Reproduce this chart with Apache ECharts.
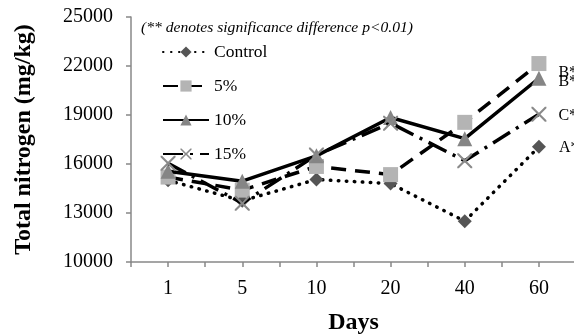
<!DOCTYPE html>
<html>
<head>
<meta charset="utf-8">
<script src="https://cdn.jsdelivr.net/npm/echarts@6/dist/echarts.min.js"></script>
<style>
  html, body { margin: 0; padding: 0; background: #fff; }
  #chart { width: 574px; height: 334px; }
</style>
</head>
<body>
<div id="chart"></div>
<script>
const days = ['1', '5', '10', '20', '40', '60']
const control = [15000, 13750, 15050, 14800, 12500, 17050]
const pct5 = [15200, 14400, 15850, 15350, 18550, 22150]
const pct10 = [15550, 14950, 16500, 18850, 17550, 21250]
const pct15 = [16050, 13600, 16550, 18500, 16200, 19050]
const endMarks = ['A**', 'B**', 'B**', 'C**']

const font = 'Liberation Serif'
const xPath = 'path://M0,0 L2,0 L10,8 L18,0 L20,0 L20,2 L12,10 L20,18 L20,20 L18,20 L10,12 L2,20 L0,20 L0,18 L8,10 L0,2 Z'

// label after the last point only
function endLabel(text, gap, dy) {
  return {
    show: true,
    position: 'right',
    distance: gap,
    offset: [0, dy],
    color: '#000',
    fontFamily: font,
    fontSize: 16,
    formatter: (p) => (p.dataIndex === days.length - 1 ? text : '')
  }
}

const chart = echarts.init(document.getElementById('chart'))

chart.setOption({
  animation: false,
  grid: { left: 131, right: -2, top: 17, bottom: 72, outerBoundsMode: 'none' },
  legend: {
    orient: 'vertical',
    left: 157,
    top: 38,
    itemWidth: 46,
    itemHeight: 14,
    itemGap: 16,
    textStyle: { fontFamily: font, fontSize: 17.5, color: '#000' },
    data: ['Control', '5%', '10%', '15%']
  },
  graphic: [{
    type: 'text',
    left: 141,
    top: 20,
    style: {
      text: '(** denotes significance difference p<0.01)',
      fontFamily: font,
      fontStyle: 'italic',
      fontSize: 15.6,
      fill: '#000'
    }
  }],
  xAxis: [
    {
      type: 'category',
      data: days,
      name: 'Days',
      nameLocation: 'middle',
      nameGap: 49,
      nameTextStyle: { fontFamily: font, fontWeight: 'bold', fontSize: 24, color: '#000' },
      axisLine: { lineStyle: { color: '#888', width: 1.5 } },
      axisTick: { show: false },
      axisLabel: { fontFamily: font, fontSize: 20, color: '#000', margin: 17 }
    },
    {
      type: 'value',
      min: 0,
      max: 12,
      interval: 1,
      position: 'bottom',
      axisLine: { show: false },
      axisLabel: { show: false },
      splitLine: { show: false },
      axisTick: { show: true, length: 5, lineStyle: { color: '#888', width: 1.5 } }
    }
  ],
  yAxis: {
    type: 'value',
    min: 10000,
    max: 25000,
    interval: 3000,
    name: 'Total nitrogen (mg/kg)',
    nameLocation: 'middle',
    nameGap: 95,
    nameTextStyle: { fontFamily: font, fontWeight: 'bold', fontSize: 24, color: '#000' },
    axisLine: { show: true, lineStyle: { color: '#888', width: 1.5 } },
    axisTick: { show: true, length: 5, lineStyle: { color: '#888', width: 1.5 } },
    splitLine: { show: false },
    axisLabel: {
      fontFamily: font, fontSize: 20, color: '#000', margin: 18,
      formatter: (v) => String(v)
    }
  },
  series: [
    {
      name: 'Control',
      type: 'line',
      data: control,
      symbol: 'diamond',
      symbolSize: 14,
      itemStyle: { color: '#555' },
      lineStyle: { color: '#000', width: 3.5, type: [0.5, 7.5], cap: 'round' },
      label: endLabel(endMarks[0], 13, 1),
      z: 2
    },
    {
      name: '5%',
      type: 'line',
      data: pct5,
      symbol: 'rect',
      symbolSize: 15,
      itemStyle: { color: '#b4b4b4' },
      lineStyle: { color: '#000', width: 3.5, type: [15, 9] },
      label: endLabel(endMarks[1], 12, 9),
      z: 3
    },
    {
      name: '10%',
      type: 'line',
      data: pct10,
      symbol: 'triangle',
      symbolSize: 15,
      itemStyle: { color: '#858585' },
      lineStyle: { color: '#000', width: 3.5, type: 'solid' },
      label: endLabel(endMarks[2], 12, 4),
      z: 4
    },
    {
      name: '15%',
      type: 'line',
      data: pct15,
      symbol: xPath,
      symbolSize: 15,
      itemStyle: { color: '#8a8a8a' },
      lineStyle: { color: '#000', width: 3.5, type: [20, 7, 3, 7] },
      label: endLabel(endMarks[3], 12, 2),
      z: 5
    }
  ]
})
</script>
</body>
</html>
